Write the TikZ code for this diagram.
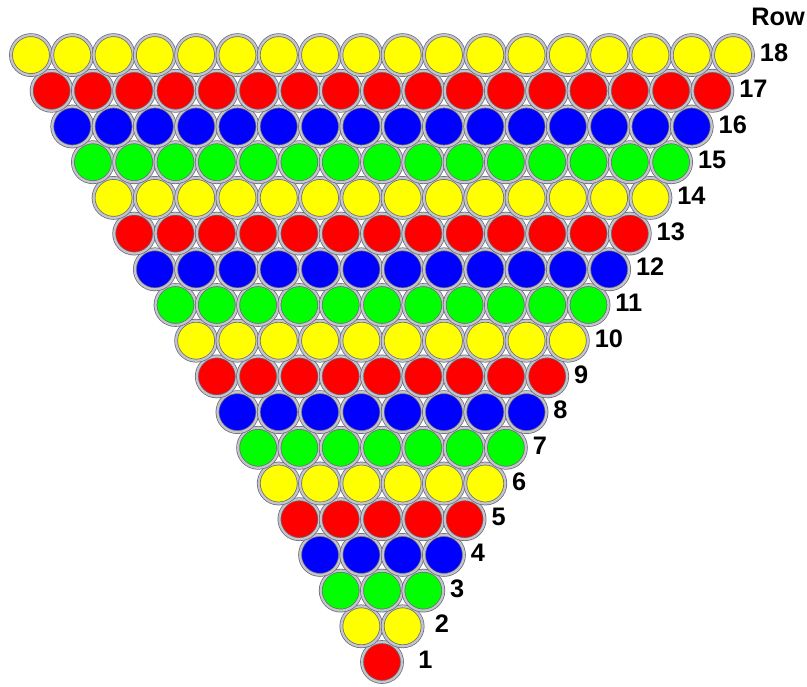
\documentclass[tikz,border=0pt]{standalone}
\usepackage{fontspec}
\setmainfont{Liberation Sans}
\definecolor{ballc0}{RGB}{0,0,255}
\definecolor{ballc1}{RGB}{255,0,0}
\definecolor{ballc2}{RGB}{255,255,0}
\definecolor{ballc3}{RGB}{0,255,0}
\definecolor{ringdark}{RGB}{105,105,118}
\definecolor{ringlight}{RGB}{196,196,204}
\tikzset{
  ball/.style={circle, inner sep=0pt, outer sep=0pt, minimum size=30pt,
    draw=ringdark, line width=0.55pt, double=ringlight, double distance=1.7pt},
  rowlab/.style={font=\fontsize{19}{22}\selectfont\bfseries, inner sep=0pt, anchor=base west}
}
\begin{document}
\begin{tikzpicture}[x=0.75pt, y=-0.75pt]
  \useasboundingbox (0,0) rectangle (807,686);
  % balls, row 1 at the bottom
  \foreach \r in {1,...,18}{
    \pgfmathtruncatemacro\k{mod(\r,4)}
    \foreach \i in {1,...,\r}{
      \node[ball, fill=ballc\k] (b\r-\i) at ({382+(\i-(\r+1)/2)*41.3},{662-(\r-1)*35.7}) {};}
    \ifcase\r\or
      \node[rowlab] (lab\r) at ([xshift=12pt, yshift=-5pt]b\r-\r.east) {\r};
    \or
      \node[rowlab] (lab\r) at ([xshift=9pt, yshift=-5pt]b\r-\r.east) {\r};
    \else
      \node[rowlab] (lab\r) at ([xshift=5pt, yshift=-5pt]b\r-\r.east) {\r};
    \fi}
  \node[rowlab, anchor=base east] (rowhead) at (805,25) {Row};
\end{tikzpicture}
\end{document}
